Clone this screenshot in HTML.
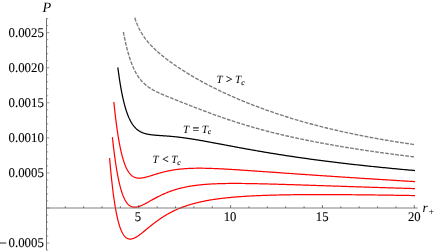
<!DOCTYPE html>
<html><head><meta charset="utf-8"><title>P-r plot</title>
<style>
html,body{margin:0;padding:0;background:#fff;}
body{width:436px;height:251px;overflow:hidden;font-family:"Liberation Serif",serif;}
svg{display:block;}
text{font-family:"Liberation Serif",serif;fill:#000;text-rendering:geometricPrecision;}
.n{font-size:13.3px;stroke:#000;stroke-width:0.12px;}
.i{font-style:italic;}
</style></head><body>
<svg width="436" height="251" viewBox="0 0 436 251">
<rect width="436" height="251" fill="#fff"/>
<g opacity="0.999"><text transform="translate(43.85,36.90) scale(0.965,1)" text-anchor="end" class="n">0.0025</text><text transform="translate(43.85,71.97) scale(0.965,1)" text-anchor="end" class="n">0.0020</text><text transform="translate(43.85,107.04) scale(0.965,1)" text-anchor="end" class="n">0.0015</text><text transform="translate(43.85,142.11) scale(0.965,1)" text-anchor="end" class="n">0.0010</text><text transform="translate(43.85,177.18) scale(0.965,1)" text-anchor="end" class="n">0.0005</text><text transform="translate(43.85,247.32) scale(0.965,1)" text-anchor="end" class="n">0.0005</text><text transform="translate(138.00,221.4) scale(0.955,1)" text-anchor="middle" class="n">5</text><text transform="translate(230.10,221.4) scale(0.955,1)" text-anchor="middle" class="n">10</text><text transform="translate(322.20,221.4) scale(0.955,1)" text-anchor="middle" class="n">15</text><text transform="translate(414.30,221.4) scale(0.955,1)" text-anchor="middle" class="n">20</text><line x1="-1" y1="243.02" x2="6.25" y2="243.02" stroke="#000" stroke-width="0.85"/>
<text x="42.4" y="11.8" class="i" font-size="14.2">P</text>
<text x="422.6" y="211.7" class="i" font-size="13.4">r</text>
<text x="428.5" y="214.5" font-size="9.8">+</text></g>
<g fill="none" stroke-linecap="butt" stroke-linejoin="round">
<path d="M134.78,17.90 L134.78,17.91 L134.79,17.92 L134.79,17.93 L134.80,17.96 L134.81,17.99 L134.82,18.02 L134.84,18.07 L134.85,18.12 L134.87,18.17 L134.89,18.24 L134.92,18.31 L134.94,18.38 L134.97,18.46 L135.00,18.55 L135.03,18.65 L135.07,18.75 L135.11,18.86 L135.15,18.97 L135.19,19.09 L135.23,19.22 L135.28,19.35 L135.33,19.48 L135.38,19.63 L135.43,19.78 L135.48,19.93 L135.54,20.09 L135.60,20.25 L135.66,20.42 L135.73,20.60 L135.79,20.78 L135.86,20.96 L135.93,21.15 L136.01,21.35 L136.08,21.55 L136.16,21.75 L136.24,21.96 L136.32,22.17 L136.41,22.39 L136.49,22.61 L136.58,22.83 L136.67,23.06 L136.77,23.29 L136.86,23.52 L136.96,23.76 L137.06,24.00 L137.16,24.25 L137.27,24.50 L137.37,24.75 L137.48,25.00 L137.59,25.26 L137.71,25.52 L137.82,25.78 L137.94,26.04 L138.06,26.31 L138.19,26.58 L138.31,26.85 L138.44,27.12 L138.57,27.40 L138.70,27.67 L138.83,27.95 L138.97,28.23 L139.11,28.51 L139.25,28.79 L139.39,29.08 L139.54,29.36 L139.68,29.65 L139.83,29.93 L139.98,30.22 L140.14,30.51 L140.30,30.80 L140.45,31.09 L140.62,31.38 L140.78,31.67 L140.94,31.97 L141.11,32.26 L141.28,32.55 L141.45,32.85 L141.63,33.14 L141.80,33.43 L141.98,33.73 L142.16,34.02 L142.35,34.32 L142.53,34.61 L142.72,34.91 L142.91,35.20 L143.10,35.50 L143.30,35.79 L143.50,36.08 L143.70,36.38 L143.90,36.67 L144.10,36.97 L144.31,37.26 L144.51,37.55 L144.72,37.85 L144.94,38.14 L145.15,38.43 L145.37,38.72 L145.59,39.02 L145.81,39.31 L146.03,39.60 L146.26,39.89 L146.49,40.18 L146.72,40.47 L146.95,40.76 L147.19,41.05 L147.43,41.34 L147.67,41.63 L147.91,41.92 L148.15,42.21 L148.40,42.49 L148.65,42.78 L148.90,43.07 L149.15,43.36 L149.41,43.64 L149.66,43.93 L149.92,44.21 L150.19,44.50 L150.45,44.79 L150.72,45.07 L150.99,45.36 L151.26,45.64 L151.53,45.93 L151.81,46.21 L152.08,46.49 L152.37,46.78 L152.65,47.06 L152.93,47.35 L153.22,47.63 L153.51,47.91 L153.80,48.20 L154.09,48.48 L154.39,48.76 L154.69,49.05 L154.99,49.33 L155.29,49.61 L155.60,49.90 L155.90,50.18 L156.21,50.46 L156.52,50.75 L156.84,51.03 L157.15,51.31 L157.47,51.60 L157.79,51.88 L158.12,52.16 L158.44,52.45 L158.77,52.73 L159.10,53.02 L159.43,53.30 L159.77,53.58 L160.10,53.87 L160.44,54.15 L160.78,54.44 L161.12,54.72 L161.47,55.01 L161.82,55.29 L162.17,55.58 L162.52,55.87 L162.87,56.15 L163.23,56.44 L163.59,56.72 L163.95,57.01 L164.32,57.30 L164.68,57.59 L165.05,57.87 L165.42,58.16 L165.79,58.45 L166.17,58.74 L166.54,59.03 L166.92,59.31 L167.30,59.60 L167.69,59.89 L168.07,60.18 L168.46,60.47 L168.85,60.76 L169.25,61.05 L169.64,61.34 L170.04,61.63 L170.44,61.93 L170.84,62.22 L171.24,62.51 L171.65,62.80 L172.06,63.09 L172.47,63.38 L172.88,63.68 L173.30,63.97 L173.71,64.26 L174.13,64.56 L174.56,64.85 L174.98,65.14 L175.41,65.44 L175.84,65.73 L176.27,66.03 L176.70,66.32 L177.14,66.62 L177.57,66.91 L178.01,67.21 L178.46,67.50 L178.90,67.80 L179.35,68.10 L179.80,68.39 L180.25,68.69 L180.70,68.99 L181.16,69.28 L181.61,69.58 L182.07,69.88 L182.54,70.17 L183.00,70.47 L183.47,70.77 L183.94,71.07 L184.41,71.36 L184.88,71.66 L185.36,71.96 L185.84,72.26 L186.32,72.56 L186.80,72.86 L187.29,73.15 L187.77,73.45 L188.26,73.75 L188.76,74.05 L189.25,74.35 L189.75,74.65 L190.24,74.95 L190.74,75.25 L191.25,75.55 L191.75,75.85 L192.26,76.15 L192.77,76.45 L193.28,76.75 L193.80,77.05 L194.31,77.34 L194.83,77.64 L195.35,77.94 L195.88,78.24 L196.40,78.54 L196.93,78.84 L197.46,79.14 L197.99,79.44 L198.53,79.74 L199.06,80.04 L199.60,80.34 L200.14,80.64 L200.69,80.94 L201.23,81.24 L201.78,81.54 L202.33,81.84 L202.88,82.14 L203.44,82.44 L204.00,82.74 L204.56,83.04 L205.12,83.34 L205.68,83.64 L206.25,83.94 L206.82,84.24 L207.39,84.54 L207.96,84.84 L208.53,85.13 L209.11,85.43 L209.69,85.73 L210.27,86.03 L210.86,86.33 L211.44,86.63 L212.03,86.93 L212.62,87.23 L213.22,87.52 L213.81,87.82 L214.41,88.12 L215.01,88.42 L215.61,88.72 L216.21,89.01 L216.82,89.31 L217.43,89.61 L218.04,89.90 L218.65,90.20 L219.27,90.50 L219.89,90.80 L220.51,91.09 L221.13,91.39 L221.75,91.68 L222.38,91.98 L223.01,92.28 L223.64,92.57 L224.28,92.87 L224.91,93.16 L225.55,93.46 L226.19,93.75 L226.83,94.05 L227.48,94.34 L228.12,94.63 L228.77,94.93 L229.42,95.22 L230.08,95.52 L230.73,95.81 L231.39,96.10 L232.05,96.39 L232.72,96.69 L233.38,96.98 L234.05,97.27 L234.72,97.56 L235.39,97.85 L236.06,98.14 L236.74,98.44 L237.42,98.73 L238.10,99.02 L238.78,99.31 L239.47,99.59 L240.16,99.88 L240.85,100.17 L241.54,100.46 L242.23,100.75 L242.93,101.04 L243.63,101.33 L244.33,101.61 L245.03,101.90 L245.74,102.19 L246.45,102.47 L247.16,102.76 L247.87,103.04 L248.58,103.33 L249.30,103.61 L250.02,103.90 L250.74,104.18 L251.46,104.47 L252.19,104.75 L252.92,105.03 L253.65,105.31 L254.38,105.60 L255.12,105.88 L255.85,106.16 L256.59,106.44 L257.33,106.72 L258.08,107.00 L258.82,107.28 L259.57,107.56 L260.32,107.83 L261.08,108.11 L261.83,108.39 L262.59,108.67 L263.35,108.94 L264.11,109.22 L264.87,109.50 L265.64,109.77 L266.41,110.05 L267.18,110.32 L267.95,110.59 L268.73,110.87 L269.51,111.14 L270.29,111.41 L271.07,111.68 L271.85,111.95 L272.64,112.22 L273.43,112.49 L274.22,112.76 L275.01,113.03 L275.81,113.30 L276.61,113.57 L277.41,113.83 L278.21,114.10 L279.01,114.37 L279.82,114.63 L280.63,114.90 L281.44,115.16 L282.25,115.43 L283.07,115.69 L283.89,115.95 L284.71,116.21 L285.53,116.47 L286.36,116.73 L287.18,116.99 L288.01,117.25 L288.84,117.51 L289.68,117.77 L290.51,118.03 L291.35,118.29 L292.19,118.54 L293.04,118.80 L293.88,119.05 L294.73,119.31 L295.58,119.56 L296.43,119.81 L297.28,120.07 L298.14,120.32 L299.00,120.57 L299.86,120.82 L300.72,121.07 L301.59,121.32 L302.46,121.57 L303.33,121.81 L304.20,122.06 L305.07,122.31 L305.95,122.55 L306.83,122.80 L307.71,123.04 L308.59,123.28 L309.48,123.53 L310.37,123.77 L311.26,124.01 L312.15,124.25 L313.04,124.49 L313.94,124.73 L314.84,124.97 L315.74,125.20 L316.65,125.44 L317.55,125.68 L318.46,125.91 L319.37,126.15 L320.28,126.38 L321.20,126.61 L322.12,126.85 L323.03,127.08 L323.96,127.31 L324.88,127.54 L325.81,127.77 L326.73,128.00 L327.67,128.22 L328.60,128.45 L329.53,128.68 L330.47,128.90 L331.41,129.13 L332.35,129.35 L333.30,129.57 L334.24,129.80 L335.19,130.02 L336.14,130.24 L337.10,130.46 L338.05,130.68 L339.01,130.90 L339.97,131.11 L340.93,131.33 L341.90,131.55 L342.86,131.76 L343.83,131.98 L344.80,132.19 L345.78,132.40 L346.75,132.61 L347.73,132.83 L348.71,133.04 L349.69,133.25 L350.68,133.45 L351.66,133.66 L352.65,133.87 L353.64,134.08 L354.64,134.28 L355.63,134.49 L356.63,134.69 L357.63,134.89 L358.64,135.10 L359.64,135.30 L360.65,135.50 L361.66,135.70 L362.67,135.90 L363.68,136.09 L364.70,136.29 L365.72,136.49 L366.74,136.68 L367.76,136.88 L368.79,137.07 L369.81,137.27 L370.84,137.46 L371.88,137.65 L372.91,137.84 L373.95,138.03 L374.99,138.22 L376.03,138.41 L377.07,138.60 L378.11,138.79 L379.16,138.97 L380.21,139.16 L381.26,139.34 L382.32,139.52 L383.38,139.71 L384.43,139.89 L385.50,140.07 L386.56,140.25 L387.63,140.43 L388.69,140.61 L389.76,140.79 L390.84,140.96 L391.91,141.14 L392.99,141.32 L394.07,141.49 L395.15,141.67 L396.23,141.84 L397.32,142.01 L398.41,142.18 L399.50,142.35 L400.59,142.52 L401.68,142.69 L402.78,142.86 L403.88,143.03 L404.98,143.20 L406.09,143.36 L407.19,143.53 L408.30,143.69 L409.41,143.85 L410.53,144.02 L411.64,144.18 L412.76,144.34 L413.88,144.50 L415.00,144.66" stroke="#7a7a7a" stroke-width="1.36" stroke-dasharray="3.779 1.360"/>
<path d="M123.38,32.00 L123.38,32.01 L123.38,32.03 L123.39,32.06 L123.40,32.10 L123.41,32.16 L123.42,32.23 L123.44,32.31 L123.46,32.40 L123.48,32.51 L123.50,32.62 L123.52,32.75 L123.55,32.90 L123.58,33.05 L123.61,33.21 L123.64,33.39 L123.68,33.58 L123.72,33.78 L123.76,33.99 L123.80,34.22 L123.85,34.45 L123.90,34.70 L123.95,34.95 L124.00,35.22 L124.05,35.50 L124.11,35.79 L124.17,36.09 L124.23,36.40 L124.30,36.72 L124.37,37.04 L124.43,37.38 L124.51,37.73 L124.58,38.09 L124.66,38.45 L124.73,38.83 L124.81,39.21 L124.90,39.60 L124.98,40.00 L125.07,40.41 L125.16,40.82 L125.25,41.25 L125.35,41.68 L125.45,42.11 L125.55,42.56 L125.65,43.01 L125.75,43.46 L125.86,43.93 L125.97,44.40 L126.08,44.87 L126.19,45.35 L126.31,45.83 L126.43,46.32 L126.55,46.82 L126.67,47.31 L126.80,47.82 L126.92,48.32 L127.05,48.83 L127.19,49.34 L127.32,49.86 L127.46,50.38 L127.60,50.90 L127.74,51.42 L127.88,51.95 L128.03,52.48 L128.18,53.00 L128.33,53.53 L128.48,54.06 L128.64,54.60 L128.80,55.13 L128.96,55.66 L129.12,56.20 L129.28,56.73 L129.45,57.26 L129.62,57.79 L129.79,58.32 L129.97,58.85 L130.14,59.38 L130.32,59.91 L130.51,60.44 L130.69,60.96 L130.88,61.49 L131.06,62.01 L131.26,62.52 L131.45,63.04 L131.64,63.55 L131.84,64.06 L132.04,64.57 L132.24,65.08 L132.45,65.58 L132.66,66.07 L132.87,66.57 L133.08,67.06 L133.29,67.55 L133.51,68.03 L133.73,68.51 L133.95,68.98 L134.17,69.45 L134.40,69.92 L134.63,70.38 L134.86,70.84 L135.09,71.29 L135.33,71.74 L135.56,72.18 L135.80,72.62 L136.05,73.06 L136.29,73.49 L136.54,73.91 L136.79,74.33 L137.04,74.74 L137.29,75.15 L137.55,75.56 L137.81,75.96 L138.07,76.35 L138.33,76.74 L138.60,77.13 L138.87,77.50 L139.14,77.88 L139.41,78.25 L139.69,78.61 L139.96,78.97 L140.24,79.32 L140.53,79.67 L140.81,80.02 L141.10,80.36 L141.39,80.69 L141.68,81.02 L141.97,81.35 L142.27,81.67 L142.57,81.98 L142.87,82.29 L143.17,82.60 L143.48,82.90 L143.79,83.20 L144.10,83.49 L144.41,83.78 L144.72,84.07 L145.04,84.35 L145.36,84.62 L145.68,84.90 L146.01,85.17 L146.33,85.43 L146.66,85.69 L147.00,85.95 L147.33,86.20 L147.67,86.46 L148.00,86.70 L148.34,86.95 L148.69,87.19 L149.03,87.43 L149.38,87.66 L149.73,87.89 L150.08,88.12 L150.44,88.35 L150.80,88.57 L151.16,88.80 L151.52,89.01 L151.88,89.23 L152.25,89.45 L152.62,89.66 L152.99,89.87 L153.36,90.08 L153.74,90.28 L154.12,90.49 L154.50,90.69 L154.88,90.89 L155.26,91.09 L155.65,91.29 L156.04,91.48 L156.43,91.68 L156.83,91.87 L157.23,92.07 L157.63,92.26 L158.03,92.45 L158.43,92.64 L158.84,92.83 L159.25,93.02 L159.66,93.20 L160.07,93.39 L160.49,93.58 L160.91,93.76 L161.33,93.95 L161.75,94.13 L162.17,94.32 L162.60,94.50 L163.03,94.69 L163.46,94.87 L163.90,95.05 L164.33,95.24 L164.77,95.42 L165.22,95.61 L165.66,95.79 L166.11,95.98 L166.55,96.16 L167.00,96.35 L167.46,96.53 L167.91,96.72 L168.37,96.90 L168.83,97.09 L169.29,97.28 L169.76,97.46 L170.23,97.65 L170.70,97.84 L171.17,98.03 L171.64,98.22 L172.12,98.41 L172.60,98.60 L173.08,98.79 L173.56,98.98 L174.05,99.18 L174.54,99.37 L175.03,99.57 L175.52,99.76 L176.02,99.96 L176.51,100.15 L177.01,100.35 L177.52,100.55 L178.02,100.75 L178.53,100.95 L179.04,101.15 L179.55,101.35 L180.06,101.56 L180.58,101.76 L181.10,101.96 L181.62,102.17 L182.14,102.38 L182.67,102.58 L183.20,102.79 L183.73,103.00 L184.26,103.21 L184.80,103.42 L185.33,103.63 L185.87,103.84 L186.42,104.06 L186.96,104.27 L187.51,104.49 L188.06,104.70 L188.61,104.92 L189.16,105.14 L189.72,105.35 L190.28,105.57 L190.84,105.79 L191.40,106.01 L191.97,106.23 L192.54,106.45 L193.11,106.68 L193.68,106.90 L194.25,107.12 L194.83,107.35 L195.41,107.57 L195.99,107.80 L196.58,108.02 L197.16,108.25 L197.75,108.48 L198.34,108.71 L198.94,108.94 L199.53,109.16 L200.13,109.39 L200.73,109.62 L201.34,109.85 L201.94,110.09 L202.55,110.32 L203.16,110.55 L203.77,110.78 L204.39,111.01 L205.01,111.25 L205.62,111.48 L206.25,111.72 L206.87,111.95 L207.50,112.18 L208.13,112.42 L208.76,112.65 L209.39,112.89 L210.03,113.13 L210.67,113.36 L211.31,113.60 L211.95,113.83 L212.59,114.07 L213.24,114.31 L213.89,114.54 L214.54,114.78 L215.20,115.02 L215.86,115.25 L216.52,115.49 L217.18,115.73 L217.84,115.96 L218.51,116.20 L219.18,116.44 L219.85,116.68 L220.52,116.91 L221.20,117.15 L221.87,117.39 L222.56,117.62 L223.24,117.86 L223.92,118.10 L224.61,118.33 L225.30,118.57 L225.99,118.81 L226.69,119.04 L227.38,119.28 L228.08,119.51 L228.78,119.75 L229.49,119.99 L230.19,120.22 L230.90,120.46 L231.61,120.69 L232.33,120.92 L233.04,121.16 L233.76,121.39 L234.48,121.63 L235.20,121.86 L235.93,122.09 L236.66,122.32 L237.39,122.56 L238.12,122.79 L238.85,123.02 L239.59,123.25 L240.33,123.48 L241.07,123.71 L241.81,123.94 L242.56,124.17 L243.31,124.40 L244.06,124.63 L244.81,124.86 L245.57,125.09 L246.32,125.31 L247.08,125.54 L247.85,125.77 L248.61,125.99 L249.38,126.22 L250.15,126.44 L250.92,126.67 L251.69,126.89 L252.47,127.12 L253.25,127.34 L254.03,127.56 L254.81,127.78 L255.60,128.01 L256.39,128.23 L257.18,128.45 L257.97,128.67 L258.77,128.89 L259.56,129.11 L260.36,129.33 L261.17,129.54 L261.97,129.76 L262.78,129.98 L263.59,130.19 L264.40,130.41 L265.21,130.62 L266.03,130.84 L266.85,131.05 L267.67,131.27 L268.49,131.48 L269.32,131.69 L270.15,131.90 L270.98,132.12 L271.81,132.33 L272.64,132.54 L273.48,132.75 L274.32,132.95 L275.16,133.16 L276.01,133.37 L276.85,133.58 L277.70,133.78 L278.55,133.99 L279.41,134.20 L280.26,134.40 L281.12,134.60 L281.98,134.81 L282.85,135.01 L283.71,135.21 L284.58,135.41 L285.45,135.62 L286.32,135.82 L287.20,136.02 L288.07,136.22 L288.95,136.42 L289.84,136.61 L290.72,136.81 L291.61,137.01 L292.50,137.21 L293.39,137.40 L294.28,137.60 L295.18,137.79 L296.07,137.99 L296.98,138.18 L297.88,138.37 L298.78,138.56 L299.69,138.76 L300.60,138.95 L301.51,139.14 L302.43,139.33 L303.35,139.52 L304.26,139.71 L305.19,139.90 L306.11,140.08 L307.04,140.27 L307.97,140.46 L308.90,140.64 L309.83,140.83 L310.77,141.02 L311.70,141.20 L312.64,141.38 L313.59,141.57 L314.53,141.75 L315.48,141.93 L316.43,142.12 L317.38,142.30 L318.34,142.48 L319.29,142.66 L320.25,142.84 L321.21,143.02 L322.18,143.20 L323.14,143.37 L324.11,143.55 L325.08,143.73 L326.06,143.91 L327.03,144.08 L328.01,144.26 L328.99,144.43 L329.97,144.61 L330.96,144.78 L331.94,144.95 L332.93,145.13 L333.93,145.30 L334.92,145.47 L335.92,145.64 L336.92,145.81 L337.92,145.99 L338.92,146.16 L339.93,146.33 L340.94,146.49 L341.95,146.66 L342.96,146.83 L343.98,147.00 L344.99,147.17 L346.01,147.33 L347.04,147.50 L348.06,147.67 L349.09,147.83 L350.12,148.00 L351.15,148.16 L352.18,148.32 L353.22,148.49 L354.26,148.65 L355.30,148.81 L356.34,148.98 L357.39,149.14 L358.44,149.30 L359.49,149.46 L360.54,149.62 L361.60,149.78 L362.65,149.94 L363.71,150.10 L364.77,150.26 L365.84,150.42 L366.91,150.57 L367.98,150.73 L369.05,150.89 L370.12,151.05 L371.20,151.20 L372.28,151.36 L373.36,151.51 L374.44,151.67 L375.53,151.82 L376.61,151.98 L377.70,152.13 L378.80,152.29 L379.89,152.44 L380.99,152.59 L382.09,152.74 L383.19,152.90 L384.30,153.05 L385.40,153.20 L386.51,153.35 L387.62,153.50 L388.74,153.65 L389.85,153.80 L390.97,153.95 L392.09,154.10 L393.22,154.25 L394.34,154.40 L395.47,154.54 L396.60,154.69 L397.73,154.84 L398.87,154.98 L400.00,155.13 L401.14,155.28 L402.28,155.42 L403.43,155.57 L404.58,155.71 L405.72,155.86 L406.88,156.00 L408.03,156.15 L409.19,156.29 L410.34,156.43 L411.50,156.58 L412.67,156.72 L413.83,156.86 L415.00,157.00" stroke="#7a7a7a" stroke-width="1.36" stroke-dasharray="3.725 1.341"/>
<path d="M117.84,67.41 L117.84,67.42 L117.84,67.44 L117.85,67.49 L117.85,67.56 L117.86,67.64 L117.88,67.74 L117.89,67.86 L117.91,68.00 L117.93,68.16 L117.95,68.34 L117.98,68.53 L118.01,68.74 L118.04,68.97 L118.07,69.22 L118.10,69.49 L118.14,69.77 L118.18,70.07 L118.22,70.38 L118.27,70.72 L118.31,71.06 L118.36,71.43 L118.41,71.81 L118.47,72.20 L118.52,72.62 L118.58,73.04 L118.64,73.48 L118.71,73.94 L118.77,74.40 L118.84,74.89 L118.91,75.38 L118.98,75.89 L119.06,76.41 L119.13,76.94 L119.21,77.49 L119.30,78.04 L119.38,78.61 L119.47,79.18 L119.56,79.77 L119.65,80.37 L119.74,80.97 L119.84,81.59 L119.94,82.21 L120.04,82.84 L120.15,83.48 L120.25,84.13 L120.36,84.78 L120.47,85.44 L120.58,86.11 L120.70,86.78 L120.82,87.46 L120.94,88.14 L121.06,88.82 L121.19,89.51 L121.32,90.21 L121.45,90.90 L121.58,91.60 L121.71,92.30 L121.85,93.00 L121.99,93.70 L122.13,94.41 L122.28,95.11 L122.42,95.82 L122.57,96.52 L122.72,97.23 L122.88,97.93 L123.03,98.63 L123.19,99.33 L123.35,100.03 L123.52,100.72 L123.68,101.42 L123.85,102.11 L124.02,102.79 L124.19,103.47 L124.37,104.15 L124.55,104.83 L124.73,105.49 L124.91,106.16 L125.10,106.82 L125.28,107.47 L125.47,108.12 L125.67,108.76 L125.86,109.39 L126.06,110.02 L126.26,110.64 L126.46,111.26 L126.66,111.87 L126.87,112.47 L127.08,113.06 L127.29,113.65 L127.50,114.22 L127.72,114.79 L127.94,115.36 L128.16,115.91 L128.38,116.45 L128.61,116.99 L128.83,117.52 L129.06,118.04 L129.30,118.55 L129.53,119.05 L129.77,119.54 L130.01,120.03 L130.25,120.50 L130.50,120.97 L130.74,121.42 L130.99,121.87 L131.24,122.31 L131.50,122.74 L131.76,123.16 L132.01,123.57 L132.28,123.97 L132.54,124.36 L132.81,124.74 L133.07,125.12 L133.34,125.48 L133.62,125.84 L133.89,126.19 L134.17,126.53 L134.45,126.86 L134.74,127.18 L135.02,127.49 L135.31,127.80 L135.60,128.09 L135.89,128.38 L136.19,128.66 L136.48,128.93 L136.78,129.19 L137.08,129.45 L137.39,129.70 L137.69,129.94 L138.00,130.17 L138.32,130.39 L138.63,130.61 L138.95,130.82 L139.26,131.03 L139.59,131.22 L139.91,131.41 L140.23,131.60 L140.56,131.77 L140.89,131.94 L141.23,132.11 L141.56,132.27 L141.90,132.42 L142.24,132.57 L142.58,132.71 L142.93,132.84 L143.27,132.97 L143.62,133.10 L143.98,133.22 L144.33,133.33 L144.69,133.45 L145.05,133.55 L145.41,133.65 L145.77,133.75 L146.14,133.85 L146.51,133.93 L146.88,134.02 L147.25,134.10 L147.63,134.18 L148.01,134.26 L148.39,134.33 L148.77,134.40 L149.16,134.46 L149.54,134.53 L149.93,134.59 L150.33,134.65 L150.72,134.70 L151.12,134.75 L151.52,134.81 L151.92,134.86 L152.33,134.90 L152.73,134.95 L153.14,134.99 L153.55,135.03 L153.97,135.07 L154.38,135.11 L154.80,135.15 L155.22,135.19 L155.65,135.22 L156.07,135.26 L156.50,135.29 L156.93,135.33 L157.37,135.36 L157.80,135.39 L158.24,135.42 L158.68,135.45 L159.12,135.48 L159.57,135.52 L160.02,135.55 L160.47,135.58 L160.92,135.61 L161.37,135.64 L161.83,135.67 L162.29,135.70 L162.75,135.73 L163.22,135.76 L163.68,135.79 L164.15,135.83 L164.62,135.86 L165.10,135.89 L165.57,135.93 L166.05,135.96 L166.53,136.00 L167.02,136.04 L167.50,136.07 L167.99,136.11 L168.48,136.15 L168.97,136.19 L169.47,136.23 L169.97,136.27 L170.47,136.32 L170.97,136.36 L171.47,136.41 L171.98,136.45 L172.49,136.50 L173.00,136.55 L173.52,136.60 L174.03,136.65 L174.55,136.70 L175.07,136.75 L175.60,136.81 L176.12,136.87 L176.65,136.92 L177.18,136.98 L177.72,137.04 L178.25,137.10 L178.79,137.17 L179.33,137.23 L179.87,137.29 L180.42,137.36 L180.97,137.43 L181.52,137.50 L182.07,137.57 L182.63,137.64 L183.18,137.71 L183.74,137.79 L184.30,137.87 L184.87,137.94 L185.44,138.02 L186.00,138.10 L186.58,138.18 L187.15,138.27 L187.73,138.35 L188.31,138.43 L188.89,138.52 L189.47,138.61 L190.06,138.70 L190.64,138.79 L191.24,138.88 L191.83,138.97 L192.42,139.07 L193.02,139.16 L193.62,139.26 L194.23,139.36 L194.83,139.46 L195.44,139.56 L196.05,139.66 L196.66,139.76 L197.27,139.86 L197.89,139.97 L198.51,140.07 L199.13,140.18 L199.76,140.29 L200.38,140.40 L201.01,140.51 L201.64,140.62 L202.28,140.73 L202.91,140.84 L203.55,140.95 L204.19,141.07 L204.84,141.18 L205.48,141.30 L206.13,141.42 L206.78,141.54 L207.43,141.66 L208.09,141.78 L208.75,141.90 L209.41,142.02 L210.07,142.14 L210.73,142.26 L211.40,142.39 L212.07,142.51 L212.74,142.64 L213.42,142.76 L214.09,142.89 L214.77,143.02 L215.45,143.14 L216.14,143.27 L216.82,143.40 L217.51,143.53 L218.20,143.66 L218.90,143.79 L219.59,143.92 L220.29,144.06 L220.99,144.19 L221.69,144.32 L222.40,144.46 L223.11,144.59 L223.82,144.72 L224.53,144.86 L225.24,144.99 L225.96,145.13 L226.68,145.27 L227.40,145.40 L228.13,145.54 L228.85,145.68 L229.58,145.81 L230.31,145.95 L231.05,146.09 L231.78,146.23 L232.52,146.37 L233.26,146.51 L234.01,146.64 L234.75,146.78 L235.50,146.92 L236.25,147.06 L237.01,147.20 L237.76,147.34 L238.52,147.49 L239.28,147.63 L240.04,147.77 L240.81,147.91 L241.57,148.05 L242.34,148.19 L243.12,148.33 L243.89,148.47 L244.67,148.62 L245.45,148.76 L246.23,148.90 L247.01,149.04 L247.80,149.18 L248.59,149.32 L249.38,149.47 L250.17,149.61 L250.97,149.75 L251.77,149.89 L252.57,150.04 L253.37,150.18 L254.18,150.32 L254.99,150.46 L255.80,150.60 L256.61,150.75 L257.42,150.89 L258.24,151.03 L259.06,151.17 L259.88,151.31 L260.71,151.46 L261.53,151.60 L262.36,151.74 L263.20,151.88 L264.03,152.02 L264.87,152.16 L265.71,152.30 L266.55,152.45 L267.39,152.59 L268.24,152.73 L269.09,152.87 L269.94,153.01 L270.79,153.15 L271.65,153.29 L272.50,153.43 L273.36,153.57 L274.23,153.71 L275.09,153.85 L275.96,153.99 L276.83,154.13 L277.70,154.27 L278.58,154.41 L279.45,154.55 L280.33,154.68 L281.22,154.82 L282.10,154.96 L282.99,155.10 L283.88,155.24 L284.77,155.38 L285.66,155.51 L286.56,155.65 L287.46,155.79 L288.36,155.92 L289.26,156.06 L290.17,156.20 L291.07,156.33 L291.98,156.47 L292.90,156.61 L293.81,156.74 L294.73,156.88 L295.65,157.01 L296.57,157.15 L297.50,157.28 L298.43,157.41 L299.36,157.55 L300.29,157.68 L301.22,157.82 L302.16,157.95 L303.10,158.08 L304.04,158.22 L304.98,158.35 L305.93,158.48 L306.88,158.61 L307.83,158.74 L308.78,158.88 L309.74,159.01 L310.70,159.14 L311.66,159.27 L312.62,159.40 L313.59,159.53 L314.56,159.66 L315.53,159.79 L316.50,159.92 L317.47,160.05 L318.45,160.18 L319.43,160.31 L320.41,160.43 L321.40,160.56 L322.38,160.69 L323.37,160.82 L324.37,160.94 L325.36,161.07 L326.36,161.20 L327.35,161.32 L328.36,161.45 L329.36,161.58 L330.37,161.70 L331.37,161.83 L332.38,161.95 L333.40,162.08 L334.41,162.20 L335.43,162.33 L336.45,162.45 L337.47,162.57 L338.50,162.70 L339.53,162.82 L340.56,162.94 L341.59,163.07 L342.62,163.19 L343.66,163.31 L344.70,163.43 L345.74,163.55 L346.79,163.67 L347.83,163.80 L348.88,163.92 L349.93,164.04 L350.99,164.16 L352.04,164.28 L353.10,164.40 L354.16,164.52 L355.23,164.63 L356.29,164.75 L357.36,164.87 L358.43,164.99 L359.50,165.11 L360.58,165.23 L361.66,165.34 L362.74,165.46 L363.82,165.58 L364.90,165.69 L365.99,165.81 L367.08,165.93 L368.17,166.04 L369.27,166.16 L370.36,166.27 L371.46,166.39 L372.57,166.50 L373.67,166.62 L374.78,166.73 L375.88,166.84 L377.00,166.96 L378.11,167.07 L379.22,167.18 L380.34,167.30 L381.46,167.41 L382.59,167.52 L383.71,167.63 L384.84,167.74 L385.97,167.86 L387.10,167.97 L388.24,168.08 L389.37,168.19 L390.51,168.30 L391.66,168.41 L392.80,168.52 L393.95,168.63 L395.10,168.74 L396.25,168.85 L397.40,168.96 L398.56,169.06 L399.72,169.17 L400.88,169.28 L402.04,169.39 L403.21,169.50 L404.38,169.60 L405.55,169.71 L406.72,169.82 L407.90,169.92 L409.07,170.03 L410.25,170.14 L411.44,170.24 L412.62,170.35 L413.81,170.45 L415.00,170.56" stroke="#000" stroke-width="1.25"/>
<path d="M113.85,102.01 L113.85,102.02 L113.86,102.06 L113.86,102.12 L113.87,102.20 L113.88,102.31 L113.90,102.44 L113.91,102.59 L113.93,102.77 L113.95,102.97 L113.97,103.20 L114.00,103.45 L114.03,103.72 L114.06,104.01 L114.09,104.33 L114.13,104.66 L114.16,105.03 L114.20,105.41 L114.24,105.81 L114.29,106.24 L114.34,106.68 L114.39,107.15 L114.44,107.63 L114.49,108.14 L114.55,108.66 L114.61,109.21 L114.67,109.77 L114.73,110.35 L114.80,110.95 L114.87,111.57 L114.94,112.20 L115.02,112.85 L115.09,113.52 L115.17,114.20 L115.25,114.90 L115.33,115.61 L115.42,116.33 L115.51,117.07 L115.60,117.82 L115.69,118.59 L115.79,119.36 L115.89,120.15 L115.99,120.95 L116.09,121.76 L116.19,122.57 L116.30,123.40 L116.41,124.24 L116.52,125.08 L116.64,125.93 L116.76,126.79 L116.88,127.65 L117.00,128.52 L117.12,129.40 L117.25,130.28 L117.38,131.16 L117.51,132.05 L117.65,132.94 L117.78,133.83 L117.92,134.72 L118.06,135.61 L118.21,136.51 L118.35,137.40 L118.50,138.29 L118.65,139.18 L118.81,140.07 L118.96,140.96 L119.12,141.85 L119.28,142.73 L119.45,143.61 L119.61,144.48 L119.78,145.35 L119.95,146.21 L120.12,147.07 L120.30,147.92 L120.48,148.76 L120.66,149.60 L120.84,150.42 L121.02,151.24 L121.21,152.06 L121.40,152.86 L121.59,153.65 L121.79,154.44 L121.99,155.21 L122.18,155.98 L122.39,156.73 L122.59,157.47 L122.80,158.20 L123.01,158.92 L123.22,159.63 L123.43,160.32 L123.65,161.01 L123.87,161.68 L124.09,162.34 L124.31,162.98 L124.54,163.61 L124.77,164.23 L125.00,164.84 L125.23,165.43 L125.47,166.00 L125.71,166.57 L125.95,167.12 L126.19,167.65 L126.44,168.18 L126.68,168.68 L126.93,169.18 L127.19,169.66 L127.44,170.12 L127.70,170.57 L127.96,171.01 L128.22,171.43 L128.49,171.84 L128.75,172.23 L129.02,172.61 L129.30,172.98 L129.57,173.33 L129.85,173.67 L130.13,174.00 L130.41,174.31 L130.69,174.61 L130.98,174.89 L131.27,175.16 L131.56,175.42 L131.85,175.66 L132.15,175.90 L132.45,176.12 L132.75,176.32 L133.05,176.52 L133.36,176.70 L133.67,176.87 L133.98,177.03 L134.29,177.18 L134.61,177.32 L134.93,177.45 L135.25,177.56 L135.57,177.67 L135.89,177.76 L136.22,177.84 L136.55,177.92 L136.89,177.98 L137.22,178.04 L137.56,178.08 L137.90,178.12 L138.24,178.15 L138.58,178.17 L138.93,178.18 L139.28,178.18 L139.63,178.18 L139.99,178.17 L140.34,178.15 L140.70,178.12 L141.07,178.09 L141.43,178.05 L141.80,178.01 L142.16,177.95 L142.54,177.90 L142.91,177.83 L143.29,177.76 L143.66,177.69 L144.05,177.61 L144.43,177.53 L144.81,177.44 L145.20,177.35 L145.59,177.25 L145.99,177.15 L146.38,177.05 L146.78,176.94 L147.18,176.83 L147.58,176.72 L147.99,176.60 L148.40,176.48 L148.81,176.36 L149.22,176.24 L149.63,176.11 L150.05,175.98 L150.47,175.85 L150.89,175.72 L151.32,175.59 L151.74,175.46 L152.17,175.32 L152.60,175.19 L153.04,175.05 L153.47,174.91 L153.91,174.77 L154.36,174.64 L154.80,174.50 L155.25,174.36 L155.69,174.22 L156.15,174.08 L156.60,173.94 L157.05,173.81 L157.51,173.67 L157.97,173.53 L158.44,173.40 L158.90,173.26 L159.37,173.13 L159.84,172.99 L160.31,172.86 L160.79,172.73 L161.27,172.60 L161.75,172.47 L162.23,172.34 L162.71,172.22 L163.20,172.09 L163.69,171.97 L164.18,171.85 L164.68,171.73 L165.18,171.61 L165.68,171.49 L166.18,171.38 L166.68,171.26 L167.19,171.15 L167.70,171.04 L168.21,170.94 L168.72,170.83 L169.24,170.73 L169.76,170.63 L170.28,170.53 L170.80,170.43 L171.33,170.33 L171.86,170.24 L172.39,170.15 L172.92,170.06 L173.46,169.97 L174.00,169.89 L174.54,169.81 L175.08,169.73 L175.63,169.65 L176.17,169.57 L176.72,169.50 L177.28,169.43 L177.83,169.36 L178.39,169.29 L178.95,169.23 L179.51,169.16 L180.08,169.10 L180.64,169.05 L181.21,168.99 L181.78,168.94 L182.36,168.88 L182.94,168.83 L183.52,168.79 L184.10,168.74 L184.68,168.70 L185.27,168.65 L185.86,168.61 L186.45,168.58 L187.04,168.54 L187.64,168.51 L188.24,168.48 L188.84,168.45 L189.44,168.42 L190.05,168.39 L190.66,168.37 L191.27,168.35 L191.88,168.32 L192.50,168.31 L193.11,168.29 L193.73,168.27 L194.36,168.26 L194.98,168.25 L195.61,168.24 L196.24,168.23 L196.87,168.22 L197.51,168.22 L198.14,168.21 L198.78,168.21 L199.43,168.21 L200.07,168.21 L200.72,168.22 L201.37,168.22 L202.02,168.22 L202.67,168.23 L203.33,168.24 L203.99,168.25 L204.65,168.26 L205.32,168.27 L205.98,168.29 L206.65,168.30 L207.32,168.32 L208.00,168.33 L208.67,168.35 L209.35,168.37 L210.03,168.39 L210.71,168.41 L211.40,168.44 L212.09,168.46 L212.78,168.49 L213.47,168.51 L214.17,168.54 L214.87,168.57 L215.57,168.60 L216.27,168.63 L216.97,168.66 L217.68,168.69 L218.39,168.72 L219.10,168.76 L219.82,168.79 L220.53,168.83 L221.25,168.86 L221.98,168.90 L222.70,168.94 L223.43,168.98 L224.16,169.02 L224.89,169.06 L225.62,169.10 L226.36,169.14 L227.10,169.18 L227.84,169.22 L228.58,169.27 L229.33,169.31 L230.08,169.35 L230.83,169.40 L231.58,169.45 L232.34,169.49 L233.10,169.54 L233.86,169.59 L234.62,169.63 L235.39,169.68 L236.15,169.73 L236.92,169.78 L237.70,169.83 L238.47,169.88 L239.25,169.93 L240.03,169.98 L240.81,170.04 L241.60,170.09 L242.39,170.14 L243.18,170.19 L243.97,170.25 L244.76,170.30 L245.56,170.35 L246.36,170.41 L247.16,170.46 L247.96,170.52 L248.77,170.57 L249.58,170.63 L250.39,170.69 L251.21,170.74 L252.02,170.80 L252.84,170.86 L253.66,170.91 L254.49,170.97 L255.31,171.03 L256.14,171.09 L256.97,171.15 L257.80,171.20 L258.64,171.26 L259.48,171.32 L260.32,171.38 L261.16,171.44 L262.01,171.50 L262.85,171.56 L263.71,171.62 L264.56,171.68 L265.41,171.74 L266.27,171.80 L267.13,171.86 L267.99,171.92 L268.86,171.99 L269.72,172.05 L270.59,172.11 L271.47,172.17 L272.34,172.23 L273.22,172.30 L274.10,172.36 L274.98,172.42 L275.86,172.48 L276.75,172.55 L277.64,172.61 L278.53,172.67 L279.42,172.73 L280.32,172.80 L281.22,172.86 L282.12,172.92 L283.02,172.99 L283.93,173.05 L284.84,173.12 L285.75,173.18 L286.66,173.24 L287.58,173.31 L288.49,173.37 L289.41,173.44 L290.34,173.50 L291.26,173.57 L292.19,173.63 L293.12,173.70 L294.05,173.76 L294.99,173.83 L295.92,173.89 L296.86,173.96 L297.81,174.02 L298.75,174.09 L299.70,174.15 L300.65,174.22 L301.60,174.29 L302.55,174.35 L303.51,174.42 L304.47,174.48 L305.43,174.55 L306.39,174.62 L307.36,174.68 L308.33,174.75 L309.30,174.82 L310.27,174.88 L311.25,174.95 L312.23,175.02 L313.21,175.08 L314.19,175.15 L315.18,175.22 L316.17,175.28 L317.16,175.35 L318.15,175.42 L319.14,175.49 L320.14,175.55 L321.14,175.62 L322.15,175.69 L323.15,175.76 L324.16,175.82 L325.17,175.89 L326.18,175.96 L327.19,176.03 L328.21,176.09 L329.23,176.16 L330.25,176.23 L331.28,176.30 L332.30,176.37 L333.33,176.44 L334.37,176.50 L335.40,176.57 L336.44,176.64 L337.47,176.71 L338.52,176.78 L339.56,176.85 L340.61,176.92 L341.65,176.99 L342.71,177.05 L343.76,177.12 L344.81,177.19 L345.87,177.26 L346.93,177.33 L348.00,177.40 L349.06,177.47 L350.13,177.54 L351.20,177.61 L352.27,177.68 L353.35,177.75 L354.43,177.82 L355.51,177.89 L356.59,177.96 L357.67,178.03 L358.76,178.10 L359.85,178.17 L360.94,178.24 L362.04,178.31 L363.13,178.38 L364.23,178.45 L365.34,178.52 L366.44,178.59 L367.55,178.66 L368.66,178.73 L369.77,178.80 L370.88,178.87 L372.00,178.94 L373.12,179.02 L374.24,179.09 L375.36,179.16 L376.49,179.23 L377.61,179.30 L378.75,179.37 L379.88,179.44 L381.01,179.51 L382.15,179.58 L383.29,179.66 L384.44,179.73 L385.58,179.80 L386.73,179.87 L387.88,179.94 L389.03,180.01 L390.19,180.09 L391.34,180.16 L392.50,180.23 L393.67,180.30 L394.83,180.37 L396.00,180.45 L397.17,180.52 L398.34,180.59 L399.51,180.66 L400.69,180.74 L401.87,180.81 L403.05,180.88 L404.23,180.95 L405.42,181.03 L406.61,181.10 L407.80,181.17 L409.00,181.24 L410.19,181.32 L411.39,181.39 L412.59,181.46 L413.79,181.53 L415.00,181.61" stroke="#f00" stroke-width="1.22"/>
<path d="M112.41,137.20 L112.41,137.21 L112.41,137.24 L112.42,137.30 L112.43,137.38 L112.44,137.48 L112.45,137.61 L112.47,137.76 L112.48,137.93 L112.51,138.12 L112.53,138.34 L112.55,138.58 L112.58,138.84 L112.61,139.12 L112.64,139.42 L112.68,139.74 L112.72,140.09 L112.76,140.46 L112.80,140.84 L112.85,141.25 L112.89,141.68 L112.94,142.13 L112.99,142.59 L113.05,143.08 L113.11,143.58 L113.17,144.10 L113.23,144.64 L113.29,145.20 L113.36,145.78 L113.43,146.37 L113.50,146.98 L113.57,147.60 L113.65,148.24 L113.73,148.89 L113.81,149.56 L113.90,150.25 L113.98,150.94 L114.07,151.65 L114.16,152.37 L114.26,153.11 L114.35,153.85 L114.45,154.61 L114.55,155.37 L114.65,156.15 L114.76,156.93 L114.87,157.73 L114.98,158.53 L115.09,159.34 L115.21,160.16 L115.32,160.98 L115.44,161.81 L115.57,162.64 L115.69,163.48 L115.82,164.33 L115.95,165.17 L116.08,166.02 L116.22,166.87 L116.36,167.73 L116.49,168.58 L116.64,169.44 L116.78,170.29 L116.93,171.15 L117.08,172.00 L117.23,172.86 L117.38,173.71 L117.54,174.55 L117.70,175.40 L117.86,176.24 L118.03,177.08 L118.19,177.91 L118.36,178.73 L118.53,179.55 L118.71,180.37 L118.88,181.18 L119.06,181.98 L119.24,182.77 L119.43,183.56 L119.61,184.33 L119.80,185.10 L119.99,185.86 L120.18,186.61 L120.38,187.34 L120.58,188.07 L120.78,188.79 L120.98,189.50 L121.19,190.19 L121.39,190.87 L121.60,191.54 L121.82,192.20 L122.03,192.85 L122.25,193.48 L122.47,194.10 L122.69,194.71 L122.92,195.30 L123.14,195.88 L123.37,196.44 L123.61,196.99 L123.84,197.53 L124.08,198.05 L124.32,198.56 L124.56,199.05 L124.80,199.53 L125.05,200.00 L125.30,200.45 L125.55,200.88 L125.80,201.30 L126.06,201.70 L126.32,202.09 L126.58,202.47 L126.84,202.83 L127.11,203.17 L127.38,203.50 L127.65,203.81 L127.92,204.11 L128.20,204.40 L128.48,204.67 L128.76,204.93 L129.04,205.17 L129.33,205.39 L129.62,205.61 L129.91,205.81 L130.20,205.99 L130.49,206.16 L130.79,206.32 L131.09,206.47 L131.39,206.60 L131.70,206.71 L132.01,206.82 L132.32,206.91 L132.63,206.99 L132.94,207.06 L133.26,207.12 L133.58,207.16 L133.90,207.19 L134.23,207.21 L134.55,207.22 L134.88,207.22 L135.22,207.21 L135.55,207.19 L135.89,207.16 L136.23,207.11 L136.57,207.06 L136.91,207.00 L137.26,206.93 L137.61,206.85 L137.96,206.76 L138.31,206.67 L138.67,206.56 L139.03,206.45 L139.39,206.33 L139.75,206.20 L140.12,206.06 L140.48,205.92 L140.85,205.77 L141.23,205.62 L141.60,205.46 L141.98,205.29 L142.36,205.12 L142.74,204.94 L143.13,204.75 L143.52,204.57 L143.91,204.37 L144.30,204.17 L144.69,203.97 L145.09,203.77 L145.49,203.56 L145.89,203.34 L146.30,203.13 L146.71,202.91 L147.11,202.68 L147.53,202.46 L147.94,202.23 L148.36,202.00 L148.78,201.76 L149.20,201.53 L149.62,201.29 L150.05,201.05 L150.48,200.81 L150.91,200.57 L151.34,200.33 L151.78,200.09 L152.22,199.84 L152.66,199.60 L153.10,199.35 L153.55,199.11 L154.00,198.86 L154.45,198.62 L154.90,198.37 L155.36,198.13 L155.82,197.88 L156.28,197.64 L156.74,197.39 L157.20,197.15 L157.67,196.91 L158.14,196.67 L158.62,196.43 L159.09,196.19 L159.57,195.95 L160.05,195.71 L160.53,195.48 L161.02,195.24 L161.50,195.01 L161.99,194.78 L162.49,194.55 L162.98,194.33 L163.48,194.10 L163.98,193.88 L164.48,193.66 L164.98,193.44 L165.49,193.22 L166.00,193.01 L166.51,192.80 L167.02,192.59 L167.54,192.38 L168.06,192.18 L168.58,191.97 L169.10,191.77 L169.63,191.58 L170.16,191.38 L170.69,191.19 L171.22,191.00 L171.76,190.81 L172.30,190.63 L172.84,190.44 L173.38,190.26 L173.93,190.09 L174.48,189.91 L175.03,189.74 L175.58,189.57 L176.13,189.40 L176.69,189.24 L177.25,189.08 L177.82,188.92 L178.38,188.77 L178.95,188.61 L179.52,188.46 L180.09,188.31 L180.66,188.17 L181.24,188.03 L181.82,187.89 L182.40,187.75 L182.99,187.62 L183.58,187.48 L184.16,187.36 L184.76,187.23 L185.35,187.11 L185.95,186.98 L186.55,186.86 L187.15,186.75 L187.75,186.63 L188.36,186.52 L188.97,186.41 L189.58,186.31 L190.19,186.20 L190.81,186.10 L191.43,186.00 L192.05,185.91 L192.67,185.81 L193.30,185.72 L193.93,185.63 L194.56,185.54 L195.19,185.46 L195.82,185.37 L196.46,185.29 L197.10,185.21 L197.75,185.14 L198.39,185.06 L199.04,184.99 L199.69,184.92 L200.34,184.85 L201.00,184.79 L201.65,184.72 L202.31,184.66 L202.98,184.60 L203.64,184.54 L204.31,184.48 L204.98,184.43 L205.65,184.38 L206.32,184.32 L207.00,184.28 L207.68,184.23 L208.36,184.18 L209.05,184.14 L209.73,184.09 L210.42,184.05 L211.11,184.01 L211.81,183.98 L212.50,183.94 L213.20,183.90 L213.90,183.87 L214.61,183.84 L215.31,183.81 L216.02,183.78 L216.73,183.75 L217.45,183.73 L218.16,183.70 L218.88,183.68 L219.60,183.66 L220.32,183.63 L221.05,183.62 L221.78,183.60 L222.51,183.58 L223.24,183.56 L223.98,183.55 L224.71,183.53 L225.45,183.52 L226.20,183.51 L226.94,183.50 L227.69,183.49 L228.44,183.48 L229.19,183.48 L229.94,183.47 L230.70,183.46 L231.46,183.46 L232.22,183.46 L232.99,183.45 L233.75,183.45 L234.52,183.45 L235.30,183.45 L236.07,183.45 L236.85,183.45 L237.63,183.46 L238.41,183.46 L239.19,183.46 L239.98,183.47 L240.77,183.47 L241.56,183.48 L242.35,183.49 L243.15,183.49 L243.94,183.50 L244.75,183.51 L245.55,183.52 L246.35,183.53 L247.16,183.54 L247.97,183.56 L248.79,183.57 L249.60,183.58 L250.42,183.59 L251.24,183.61 L252.06,183.62 L252.89,183.64 L253.71,183.65 L254.54,183.67 L255.38,183.69 L256.21,183.70 L257.05,183.72 L257.89,183.74 L258.73,183.76 L259.58,183.77 L260.42,183.79 L261.27,183.81 L262.12,183.83 L262.98,183.85 L263.84,183.88 L264.69,183.90 L265.56,183.92 L266.42,183.94 L267.29,183.96 L268.16,183.99 L269.03,184.01 L269.90,184.03 L270.78,184.06 L271.66,184.08 L272.54,184.10 L273.42,184.13 L274.31,184.15 L275.19,184.18 L276.08,184.20 L276.98,184.23 L277.87,184.26 L278.77,184.28 L279.67,184.31 L280.58,184.34 L281.48,184.36 L282.39,184.39 L283.30,184.42 L284.21,184.44 L285.13,184.47 L286.04,184.50 L286.96,184.53 L287.89,184.56 L288.81,184.59 L289.74,184.62 L290.67,184.64 L291.60,184.67 L292.53,184.70 L293.47,184.73 L294.41,184.76 L295.35,184.79 L296.30,184.82 L297.24,184.85 L298.19,184.88 L299.14,184.91 L300.10,184.95 L301.05,184.98 L302.01,185.01 L302.97,185.04 L303.94,185.07 L304.90,185.10 L305.87,185.13 L306.84,185.16 L307.82,185.20 L308.79,185.23 L309.77,185.26 L310.75,185.29 L311.73,185.32 L312.72,185.36 L313.71,185.39 L314.70,185.42 L315.69,185.45 L316.69,185.49 L317.68,185.52 L318.68,185.55 L319.69,185.59 L320.69,185.62 L321.70,185.65 L322.71,185.69 L323.72,185.72 L324.74,185.75 L325.75,185.79 L326.77,185.82 L327.80,185.85 L328.82,185.89 L329.85,185.92 L330.88,185.96 L331.91,185.99 L332.94,186.02 L333.98,186.06 L335.02,186.09 L336.06,186.13 L337.10,186.16 L338.15,186.19 L339.20,186.23 L340.25,186.26 L341.30,186.30 L342.36,186.33 L343.42,186.37 L344.48,186.40 L345.54,186.44 L346.61,186.47 L347.68,186.51 L348.75,186.54 L349.82,186.58 L350.89,186.61 L351.97,186.65 L353.05,186.68 L354.14,186.72 L355.22,186.75 L356.31,186.79 L357.40,186.82 L358.49,186.86 L359.59,186.89 L360.68,186.93 L361.78,186.96 L362.88,187.00 L363.99,187.03 L365.10,187.07 L366.21,187.10 L367.32,187.14 L368.43,187.18 L369.55,187.21 L370.67,187.25 L371.79,187.28 L372.91,187.32 L374.04,187.35 L375.17,187.39 L376.30,187.42 L377.43,187.46 L378.57,187.50 L379.71,187.53 L380.85,187.57 L381.99,187.60 L383.14,187.64 L384.29,187.68 L385.44,187.71 L386.59,187.75 L387.75,187.78 L388.91,187.82 L390.07,187.86 L391.23,187.89 L392.40,187.93 L393.56,187.96 L394.73,188.00 L395.91,188.04 L397.08,188.07 L398.26,188.11 L399.44,188.14 L400.62,188.18 L401.81,188.22 L402.99,188.25 L404.18,188.29 L405.38,188.33 L406.57,188.36 L407.77,188.40 L408.97,188.43 L410.17,188.47 L411.37,188.51 L412.58,188.54 L413.79,188.58 L415.00,188.62" stroke="#f00" stroke-width="1.22"/>
<path d="M109.60,158.11 L109.61,158.12 L109.61,158.16 L109.62,158.24 L109.62,158.34 L109.64,158.47 L109.65,158.63 L109.67,158.82 L109.68,159.03 L109.70,159.28 L109.73,159.55 L109.75,159.85 L109.78,160.18 L109.81,160.54 L109.85,160.92 L109.88,161.33 L109.92,161.76 L109.96,162.23 L110.00,162.72 L110.05,163.23 L110.10,163.77 L110.15,164.33 L110.20,164.92 L110.25,165.53 L110.31,166.16 L110.37,166.82 L110.43,167.49 L110.50,168.19 L110.57,168.91 L110.64,169.65 L110.71,170.41 L110.78,171.19 L110.86,171.99 L110.94,172.81 L111.02,173.64 L111.11,174.49 L111.19,175.35 L111.28,176.23 L111.38,177.13 L111.47,178.03 L111.57,178.96 L111.67,179.89 L111.77,180.83 L111.87,181.79 L111.98,182.76 L112.09,183.73 L112.20,184.71 L112.31,185.71 L112.43,186.71 L112.55,187.71 L112.67,188.72 L112.80,189.74 L112.92,190.76 L113.05,191.78 L113.18,192.81 L113.32,193.83 L113.45,194.86 L113.59,195.89 L113.73,196.92 L113.87,197.95 L114.02,198.97 L114.17,200.00 L114.32,201.02 L114.47,202.04 L114.63,203.05 L114.79,204.05 L114.95,205.05 L115.11,206.05 L115.28,207.04 L115.44,208.02 L115.61,208.99 L115.79,209.95 L115.96,210.90 L116.14,211.84 L116.32,212.78 L116.50,213.70 L116.69,214.60 L116.88,215.50 L117.07,216.39 L117.26,217.26 L117.45,218.11 L117.65,218.96 L117.85,219.79 L118.05,220.60 L118.26,221.40 L118.47,222.18 L118.68,222.95 L118.89,223.70 L119.10,224.43 L119.32,225.15 L119.54,225.85 L119.76,226.54 L119.99,227.20 L120.21,227.85 L120.44,228.48 L120.67,229.09 L120.91,229.69 L121.14,230.26 L121.38,230.82 L121.63,231.36 L121.87,231.88 L122.12,232.38 L122.37,232.87 L122.62,233.33 L122.87,233.77 L123.13,234.20 L123.39,234.61 L123.65,235.00 L123.91,235.37 L124.18,235.72 L124.45,236.05 L124.72,236.37 L124.99,236.67 L125.27,236.94 L125.54,237.20 L125.83,237.45 L126.11,237.67 L126.39,237.88 L126.68,238.07 L126.97,238.24 L127.27,238.40 L127.56,238.54 L127.86,238.66 L128.16,238.76 L128.46,238.85 L128.77,238.93 L129.08,238.99 L129.39,239.03 L129.70,239.06 L130.01,239.07 L130.33,239.07 L130.65,239.05 L130.98,239.02 L131.30,238.98 L131.63,238.92 L131.96,238.85 L132.29,238.77 L132.62,238.68 L132.96,238.57 L133.30,238.45 L133.64,238.32 L133.99,238.18 L134.34,238.02 L134.69,237.86 L135.04,237.69 L135.39,237.50 L135.75,237.31 L136.11,237.10 L136.47,236.89 L136.83,236.67 L137.20,236.44 L137.57,236.20 L137.94,235.96 L138.32,235.70 L138.69,235.44 L139.07,235.18 L139.45,234.90 L139.84,234.62 L140.22,234.33 L140.61,234.04 L141.00,233.74 L141.40,233.44 L141.79,233.13 L142.19,232.81 L142.59,232.50 L143.00,232.17 L143.40,231.85 L143.81,231.52 L144.22,231.18 L144.63,230.85 L145.05,230.51 L145.47,230.16 L145.89,229.82 L146.31,229.47 L146.74,229.12 L147.17,228.77 L147.60,228.41 L148.03,228.06 L148.46,227.70 L148.90,227.34 L149.34,226.98 L149.79,226.62 L150.23,226.26 L150.68,225.90 L151.13,225.54 L151.58,225.18 L152.04,224.82 L152.49,224.46 L152.95,224.10 L153.42,223.74 L153.88,223.38 L154.35,223.02 L154.82,222.66 L155.29,222.30 L155.76,221.95 L156.24,221.59 L156.72,221.24 L157.20,220.89 L157.69,220.54 L158.17,220.19 L158.66,219.84 L159.16,219.50 L159.65,219.15 L160.15,218.81 L160.65,218.47 L161.15,218.14 L161.65,217.80 L162.16,217.47 L162.67,217.14 L163.18,216.81 L163.69,216.49 L164.21,216.17 L164.73,215.85 L165.25,215.53 L165.77,215.21 L166.30,214.90 L166.83,214.59 L167.36,214.29 L167.89,213.98 L168.43,213.68 L168.97,213.38 L169.51,213.09 L170.05,212.80 L170.60,212.51 L171.14,212.22 L171.70,211.94 L172.25,211.66 L172.80,211.38 L173.36,211.11 L173.92,210.84 L174.49,210.57 L175.05,210.30 L175.62,210.04 L176.19,209.78 L176.76,209.53 L177.34,209.27 L177.92,209.02 L178.50,208.78 L179.08,208.53 L179.66,208.29 L180.25,208.06 L180.84,207.82 L181.43,207.59 L182.03,207.36 L182.62,207.14 L183.22,206.91 L183.83,206.69 L184.43,206.48 L185.04,206.26 L185.65,206.05 L186.26,205.85 L186.87,205.64 L187.49,205.44 L188.11,205.24 L188.73,205.04 L189.36,204.85 L189.98,204.66 L190.61,204.47 L191.24,204.28 L191.88,204.10 L192.52,203.92 L193.15,203.74 L193.80,203.57 L194.44,203.39 L195.09,203.22 L195.73,203.06 L196.39,202.89 L197.04,202.73 L197.70,202.57 L198.35,202.41 L199.02,202.26 L199.68,202.10 L200.34,201.95 L201.01,201.81 L201.68,201.66 L202.36,201.52 L203.03,201.38 L203.71,201.24 L204.39,201.10 L205.08,200.97 L205.76,200.83 L206.45,200.70 L207.14,200.58 L207.83,200.45 L208.53,200.33 L209.23,200.20 L209.93,200.09 L210.63,199.97 L211.33,199.85 L212.04,199.74 L212.75,199.63 L213.46,199.51 L214.18,199.41 L214.90,199.30 L215.62,199.20 L216.34,199.09 L217.06,198.99 L217.79,198.89 L218.52,198.79 L219.25,198.70 L219.99,198.60 L220.73,198.51 L221.46,198.42 L222.21,198.33 L222.95,198.24 L223.70,198.15 L224.45,198.07 L225.20,197.99 L225.95,197.90 L226.71,197.82 L227.47,197.75 L228.23,197.67 L229.00,197.59 L229.76,197.52 L230.53,197.44 L231.30,197.37 L232.08,197.30 L232.85,197.23 L233.63,197.16 L234.41,197.10 L235.20,197.03 L235.98,196.97 L236.77,196.90 L237.56,196.84 L238.36,196.78 L239.15,196.72 L239.95,196.66 L240.75,196.60 L241.55,196.55 L242.36,196.49 L243.17,196.44 L243.98,196.38 L244.79,196.33 L245.61,196.28 L246.43,196.23 L247.25,196.18 L248.07,196.13 L248.90,196.09 L249.72,196.04 L250.55,196.00 L251.39,195.95 L252.22,195.91 L253.06,195.87 L253.90,195.83 L254.74,195.79 L255.59,195.75 L256.43,195.71 L257.28,195.67 L258.14,195.63 L258.99,195.60 L259.85,195.56 L260.71,195.53 L261.57,195.49 L262.44,195.46 L263.30,195.43 L264.17,195.39 L265.04,195.36 L265.92,195.33 L266.80,195.30 L267.68,195.28 L268.56,195.25 L269.44,195.22 L270.33,195.19 L271.22,195.17 L272.11,195.14 L273.00,195.12 L273.90,195.10 L274.80,195.07 L275.70,195.05 L276.60,195.03 L277.51,195.01 L278.42,194.99 L279.33,194.97 L280.24,194.95 L281.16,194.93 L282.08,194.91 L283.00,194.89 L283.92,194.87 L284.85,194.86 L285.78,194.84 L286.71,194.83 L287.64,194.81 L288.58,194.80 L289.52,194.78 L290.46,194.77 L291.40,194.76 L292.35,194.74 L293.29,194.73 L294.24,194.72 L295.20,194.71 L296.15,194.70 L297.11,194.69 L298.07,194.68 L299.03,194.67 L300.00,194.66 L300.97,194.66 L301.94,194.65 L302.91,194.64 L303.88,194.63 L304.86,194.63 L305.84,194.62 L306.82,194.62 L307.81,194.61 L308.80,194.61 L309.79,194.60 L310.78,194.60 L311.77,194.60 L312.77,194.59 L313.77,194.59 L314.77,194.59 L315.78,194.59 L316.78,194.59 L317.79,194.58 L318.80,194.58 L319.82,194.58 L320.84,194.58 L321.85,194.58 L322.88,194.59 L323.90,194.59 L324.93,194.59 L325.96,194.59 L326.99,194.59 L328.02,194.59 L329.06,194.60 L330.10,194.60 L331.14,194.60 L332.18,194.61 L333.23,194.61 L334.28,194.62 L335.33,194.62 L336.38,194.63 L337.44,194.63 L338.50,194.64 L339.56,194.64 L340.62,194.65 L341.69,194.66 L342.75,194.66 L343.82,194.67 L344.90,194.68 L345.97,194.69 L347.05,194.69 L348.13,194.70 L349.22,194.71 L350.30,194.72 L351.39,194.73 L352.48,194.74 L353.57,194.75 L354.67,194.76 L355.76,194.77 L356.86,194.78 L357.97,194.79 L359.07,194.80 L360.18,194.81 L361.29,194.82 L362.40,194.83 L363.52,194.85 L364.63,194.86 L365.75,194.87 L366.88,194.88 L368.00,194.90 L369.13,194.91 L370.26,194.92 L371.39,194.94 L372.52,194.95 L373.66,194.96 L374.80,194.98 L375.94,194.99 L377.09,195.01 L378.23,195.02 L379.38,195.04 L380.53,195.05 L381.69,195.07 L382.85,195.08 L384.00,195.10 L385.17,195.11 L386.33,195.13 L387.50,195.15 L388.66,195.16 L389.84,195.18 L391.01,195.20 L392.19,195.21 L393.36,195.23 L394.55,195.25 L395.73,195.27 L396.92,195.28 L398.10,195.30 L399.29,195.32 L400.49,195.34 L401.68,195.36 L402.88,195.38 L404.08,195.40 L405.29,195.42 L406.49,195.43 L407.70,195.45 L408.91,195.47 L410.12,195.49 L411.34,195.51 L412.56,195.53 L413.78,195.55 L415.00,195.57" stroke="#f00" stroke-width="1.22"/>
</g>
<line x1="46.5" y1="18.3" x2="46.5" y2="250.2" stroke="#707070" stroke-width="1"/><line x1="46.1" y1="208.0" x2="417.6" y2="208.0" stroke="#6c6c6c" stroke-width="0.85"/><line x1="46.5" y1="250.08" x2="48.2" y2="250.08" stroke="#707070" stroke-width="0.7"/><line x1="46.5" y1="243.07" x2="49.4" y2="243.07" stroke="#707070" stroke-width="0.7"/><line x1="46.5" y1="236.06" x2="48.2" y2="236.06" stroke="#707070" stroke-width="0.7"/><line x1="46.5" y1="229.04" x2="48.2" y2="229.04" stroke="#707070" stroke-width="0.7"/><line x1="46.5" y1="222.03" x2="48.2" y2="222.03" stroke="#707070" stroke-width="0.7"/><line x1="46.5" y1="215.01" x2="48.2" y2="215.01" stroke="#707070" stroke-width="0.7"/><line x1="46.5" y1="208.00" x2="49.4" y2="208.00" stroke="#707070" stroke-width="0.7"/><line x1="46.5" y1="200.99" x2="48.2" y2="200.99" stroke="#707070" stroke-width="0.7"/><line x1="46.5" y1="193.97" x2="48.2" y2="193.97" stroke="#707070" stroke-width="0.7"/><line x1="46.5" y1="186.96" x2="48.2" y2="186.96" stroke="#707070" stroke-width="0.7"/><line x1="46.5" y1="179.94" x2="48.2" y2="179.94" stroke="#707070" stroke-width="0.7"/><line x1="46.5" y1="172.93" x2="49.4" y2="172.93" stroke="#707070" stroke-width="0.7"/><line x1="46.5" y1="165.92" x2="48.2" y2="165.92" stroke="#707070" stroke-width="0.7"/><line x1="46.5" y1="158.90" x2="48.2" y2="158.90" stroke="#707070" stroke-width="0.7"/><line x1="46.5" y1="151.89" x2="48.2" y2="151.89" stroke="#707070" stroke-width="0.7"/><line x1="46.5" y1="144.87" x2="48.2" y2="144.87" stroke="#707070" stroke-width="0.7"/><line x1="46.5" y1="137.86" x2="49.4" y2="137.86" stroke="#707070" stroke-width="0.7"/><line x1="46.5" y1="130.85" x2="48.2" y2="130.85" stroke="#707070" stroke-width="0.7"/><line x1="46.5" y1="123.83" x2="48.2" y2="123.83" stroke="#707070" stroke-width="0.7"/><line x1="46.5" y1="116.82" x2="48.2" y2="116.82" stroke="#707070" stroke-width="0.7"/><line x1="46.5" y1="109.80" x2="48.2" y2="109.80" stroke="#707070" stroke-width="0.7"/><line x1="46.5" y1="102.79" x2="49.4" y2="102.79" stroke="#707070" stroke-width="0.7"/><line x1="46.5" y1="95.78" x2="48.2" y2="95.78" stroke="#707070" stroke-width="0.7"/><line x1="46.5" y1="88.76" x2="48.2" y2="88.76" stroke="#707070" stroke-width="0.7"/><line x1="46.5" y1="81.75" x2="48.2" y2="81.75" stroke="#707070" stroke-width="0.7"/><line x1="46.5" y1="74.73" x2="48.2" y2="74.73" stroke="#707070" stroke-width="0.7"/><line x1="46.5" y1="67.72" x2="49.4" y2="67.72" stroke="#707070" stroke-width="0.7"/><line x1="46.5" y1="60.71" x2="48.2" y2="60.71" stroke="#707070" stroke-width="0.7"/><line x1="46.5" y1="53.69" x2="48.2" y2="53.69" stroke="#707070" stroke-width="0.7"/><line x1="46.5" y1="46.68" x2="48.2" y2="46.68" stroke="#707070" stroke-width="0.7"/><line x1="46.5" y1="39.66" x2="48.2" y2="39.66" stroke="#707070" stroke-width="0.7"/><line x1="46.5" y1="32.65" x2="49.4" y2="32.65" stroke="#707070" stroke-width="0.7"/><line x1="46.5" y1="25.64" x2="48.2" y2="25.64" stroke="#707070" stroke-width="0.7"/><line x1="46.5" y1="18.62" x2="48.2" y2="18.62" stroke="#707070" stroke-width="0.7"/><line x1="65.27" y1="208.0" x2="65.27" y2="206.3" stroke="#505050" stroke-width="0.8"/><line x1="83.64" y1="208.0" x2="83.64" y2="206.3" stroke="#505050" stroke-width="0.8"/><line x1="102.01" y1="208.0" x2="102.01" y2="206.3" stroke="#505050" stroke-width="0.8"/><line x1="120.38" y1="208.0" x2="120.38" y2="206.3" stroke="#505050" stroke-width="0.8"/><line x1="138.75" y1="208.0" x2="138.75" y2="205.1" stroke="#505050" stroke-width="0.8"/><line x1="157.12" y1="208.0" x2="157.12" y2="206.3" stroke="#505050" stroke-width="0.8"/><line x1="175.49" y1="208.0" x2="175.49" y2="206.3" stroke="#505050" stroke-width="0.8"/><line x1="193.86" y1="208.0" x2="193.86" y2="206.3" stroke="#505050" stroke-width="0.8"/><line x1="212.23" y1="208.0" x2="212.23" y2="206.3" stroke="#505050" stroke-width="0.8"/><line x1="230.60" y1="208.0" x2="230.60" y2="205.1" stroke="#505050" stroke-width="0.8"/><line x1="248.97" y1="208.0" x2="248.97" y2="206.3" stroke="#505050" stroke-width="0.8"/><line x1="267.34" y1="208.0" x2="267.34" y2="206.3" stroke="#505050" stroke-width="0.8"/><line x1="285.71" y1="208.0" x2="285.71" y2="206.3" stroke="#505050" stroke-width="0.8"/><line x1="304.08" y1="208.0" x2="304.08" y2="206.3" stroke="#505050" stroke-width="0.8"/><line x1="322.45" y1="208.0" x2="322.45" y2="205.1" stroke="#505050" stroke-width="0.8"/><line x1="340.82" y1="208.0" x2="340.82" y2="206.3" stroke="#505050" stroke-width="0.8"/><line x1="359.19" y1="208.0" x2="359.19" y2="206.3" stroke="#505050" stroke-width="0.8"/><line x1="377.56" y1="208.0" x2="377.56" y2="206.3" stroke="#505050" stroke-width="0.8"/><line x1="395.93" y1="208.0" x2="395.93" y2="206.3" stroke="#505050" stroke-width="0.8"/><line x1="414.30" y1="208.0" x2="414.30" y2="205.1" stroke="#505050" stroke-width="0.8"/>
<g class="i" font-size="11" opacity="0.999">
<text x="216.5" y="83.3"><tspan>T</tspan><tspan x="225.2" font-size="11.8" stroke="#000" stroke-width="0.16">&gt;</tspan><tspan x="235.1">T</tspan><tspan font-size="7.6" dy="1.7" stroke="#000" stroke-width="0.15">c</tspan></text>
<text x="183.1" y="132.7"><tspan>T</tspan><tspan x="191.8" font-size="11.8" stroke="#000" stroke-width="0.16">=</tspan><tspan x="201.7">T</tspan><tspan font-size="7.6" dy="1.7" stroke="#000" stroke-width="0.15">c</tspan></text>
<text x="152.6" y="163.3"><tspan>T</tspan><tspan x="161.3" font-size="11.8" stroke="#000" stroke-width="0.15">&lt;</tspan><tspan x="171.2">T</tspan><tspan font-size="7.6" dy="1.7" stroke="#000" stroke-width="0.15">c</tspan></text>
</g>
</svg>
</body></html>
